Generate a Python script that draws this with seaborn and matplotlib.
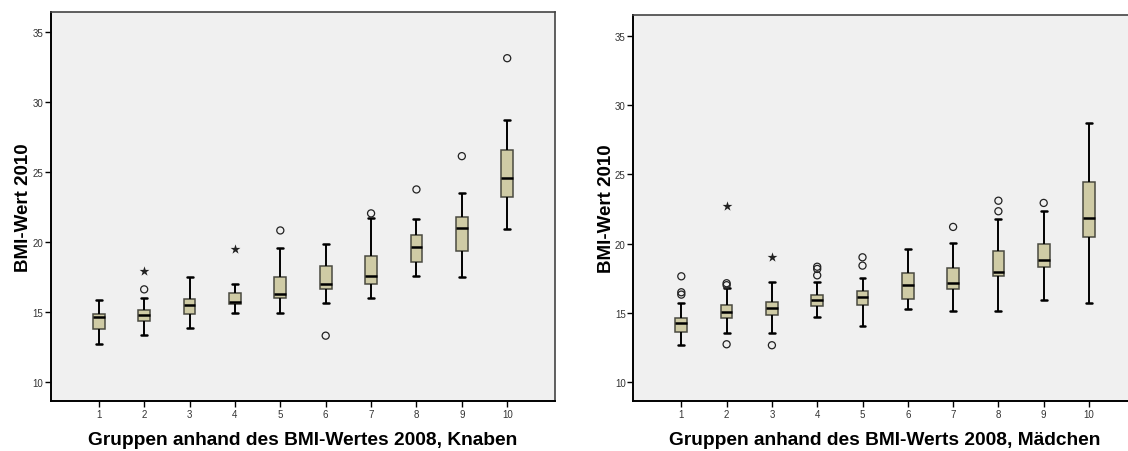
import numpy as np
import pandas as pd
import matplotlib
matplotlib.use("Agg")
import matplotlib.pyplot as plt
import seaborn as sns

groups = ["1", "2", "3", "4", "5", "6", "7", "8", "9", "10"]

# Knaben: five-number summaries (lower whisker, Q1, median, Q3, upper whisker)
k_lo  = [12.71, 13.36, 13.84, 14.88, 14.88, 15.64, 16.00, 17.53, 17.50, 20.93]
k_q1  = [13.74, 14.34, 14.84, 15.53, 15.96, 16.60, 16.96, 18.53, 19.36, 23.19]
k_med = [14.60, 14.76, 15.46, 15.71, 16.24, 17.00, 17.57, 19.62, 20.98, 24.53]
k_q3  = [14.81, 15.14, 15.93, 16.36, 17.50, 18.29, 18.96, 20.50, 21.74, 26.53]
k_hi  = [15.86, 15.96, 17.46, 17.00, 19.53, 19.84, 21.67, 21.64, 23.46, 28.71]
k_circle_grp = ["2", "5", "6", "7", "8", "9", "10"]
k_circle_val = [16.60, 20.81, 13.29, 22.03, 23.74, 26.12, 33.12]
k_star_grp = ["2", "4"]
k_star_val = [17.93, 19.46]

# Mädchen
m_lo  = [12.69, 13.58, 13.53, 14.71, 14.08, 15.28, 15.14, 15.14, 15.93, 15.72]
m_q1  = [13.65, 14.64, 14.85, 15.50, 15.55, 15.98, 16.75, 17.66, 18.31, 20.45]
m_med = [14.28, 15.07, 15.36, 15.93, 16.15, 17.02, 17.18, 17.97, 18.84, 21.87]
m_q3  = [14.66, 15.55, 15.81, 16.27, 16.58, 17.90, 18.24, 19.47, 19.95, 24.42]
m_hi  = [15.74, 16.82, 17.23, 17.23, 17.54, 19.63, 20.02, 21.77, 22.37, 28.72]
m_circle_grp = ["1", "1", "1", "2", "2", "2", "3", "4", "4", "4", "5", "5", "7", "8", "8", "9"]
m_circle_val = [17.64, 16.49, 16.32, 17.14, 17.00, 12.74, 12.67, 18.33, 18.17, 17.71,
                19.01, 18.41, 21.20, 23.09, 22.33, 22.93]
m_star_grp = ["2", "3"]
m_star_val = [22.73, 19.06]

yticks = [10, 15, 20, 25, 30, 35]

xlabel_k = "Gruppen anhand des BMI-Wertes 2008, Knaben"
xlabel_m = "Gruppen anhand des BMI-Werts 2008, Mädchen"
ylabel = "BMI-Wert 2010"

sns.set_style("ticks", {"axes.facecolor": "#F0F0F0"})
plt.rcParams["font.family"] = ["Liberation Sans", "DejaVu Sans"]
plt.rcParams["text.color"] = "black"
plt.rcParams["axes.labelcolor"] = "black"

BOX_FILL = "#D6D09E"
BOX_EDGE = "#4a4a40"


def five_num_frame(lo, q1, med, q3, hi):
    rows = []
    for g, a, b, c, d, e in zip(groups, lo, q1, med, q3, hi):
        for v in (a, b, c, d, e):
            rows.append({"grp": g, "bmi": v})
    return pd.DataFrame(rows)


def draw(ax, lo, q1, med, q3, hi, cg, cv, sg, sv, ylim, xlabel):
    df = five_num_frame(lo, q1, med, q3, hi)
    sns.boxplot(data=df, x="grp", y="bmi", order=groups, ax=ax,
                whis=(0, 100), width=0.26, showfliers=False,
                color=BOX_FILL, linecolor="black", linewidth=1.1,
                boxprops={"edgecolor": BOX_EDGE, "linewidth": 1.1},
                whiskerprops={"color": "black", "linewidth": 1.4},
                capprops={"color": "black", "linewidth": 1.8},
                medianprops={"color": "black", "linewidth": 1.8})
    cx = [groups.index(g) for g in cg]
    ax.scatter(cx, cv, s=26, marker="o", facecolors="none",
               edgecolors="#222222", linewidths=0.9, zorder=5)
    sx = [groups.index(g) for g in sg]
    ax.scatter(sx, sv, s=55, marker="*", color="#222222", linewidths=0, zorder=5)
    ax.set_xlim(-1.06, 10.06)
    ax.set_ylim(*ylim)
    ax.set_yticks(yticks)
    ax.set_yticklabels([str(t) for t in yticks])
    ax.set_xlabel(xlabel, fontsize=13.8, fontweight="bold", labelpad=9, color="black")
    ax.set_ylabel(ylabel, fontsize=13.5, fontweight="bold", labelpad=0, color="black")
    ax.tick_params(axis="both", labelsize=7, colors="black", labelcolor="#333333",
                   length=4.5, width=1, direction="out", pad=1)
    for side in ("left", "bottom"):
        ax.spines[side].set_color("black")
        ax.spines[side].set_linewidth(1.4)
    for side in ("top", "right"):
        ax.spines[side].set_visible(True)
        ax.spines[side].set_color("#444444")
        ax.spines[side].set_linewidth(1.2)


fig = plt.figure(figsize=(11.28, 4.52), dpi=100)
ax1 = fig.add_axes([50.7 / 1128, 1 - 402.3 / 452, (555.3 - 50.7) / 1128, (402.3 - 13.3) / 452])
ax2 = fig.add_axes([633.3 / 1128, 1 - 402.0 / 452, (1137 - 633.3) / 1128, (402.0 - 15.7) / 452])

draw(ax1, k_lo, k_q1, k_med, k_q3, k_hi, k_circle_grp, k_circle_val,
     k_star_grp, k_star_val, (8.6, 36.4), xlabel_k)
draw(ax2, m_lo, m_q1, m_med, m_q3, m_hi, m_circle_grp, m_circle_val,
     m_star_grp, m_star_val, (8.65, 36.5), xlabel_m)

fig.savefig("out.png", dpi=100)
